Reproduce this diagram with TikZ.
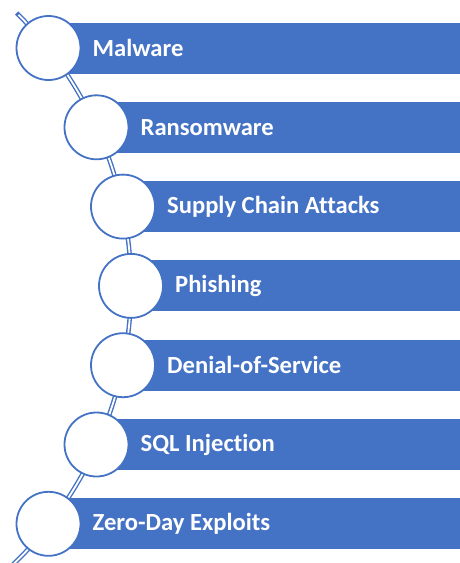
\documentclass[tikz,border=0pt]{standalone}
\usepackage{fontspec}
\setmainfont{Carlito}[Ligatures=NoCommon]
\definecolor{accent}{HTML}{4472C4}
\begin{document}
\begin{tikzpicture}[x=1pt,y=-1pt,
  barbox/.style={fill=accent, draw=none},
  dot/.style={circle, draw=accent, line width=1.8pt, fill=white, minimum size=64pt, inner sep=0pt},
  label/.style={anchor=west, text=white, font=\bfseries\fontsize{24.6}{28}\selectfont, inner sep=0pt}]
\useasboundingbox (0,0) rectangle (460,563);
\clip (0,0) rectangle (460,563);
\coordinate (arcc) at (-254.6,287);
% curved double line
\draw[accent, line width=4.6pt] (arcc) ++(-45.3:385.6) arc[start angle=-45.3, end angle=52, radius=385.6];
\draw[white, line width=1.8pt] (arcc) ++(-44.9:385.6) arc[start angle=-44.9, end angle=52, radius=385.6];
% items
\foreach \i/\cx/\txt in {0/48.5/Malware, 1/96.5/Ransomware, 2/123/Supply Chain Attacks, 3/131/Phishing, 4/123/Denial-of-Service, 5/96.5/SQL Injection, 6/48.5/Zero-Day Exploits}{
  \pgfmathsetmacro{\cy}{48+79.3*\i}
  \fill[accent] (\cx,\cy-25.5) rectangle (460,\cy+25.5);
  \node[dot] (c\i) at (\cx,\cy) {};
  \node[label] (t\i) at (\cx+44,\cy) {\txt};
}
\end{tikzpicture}
\end{document}
